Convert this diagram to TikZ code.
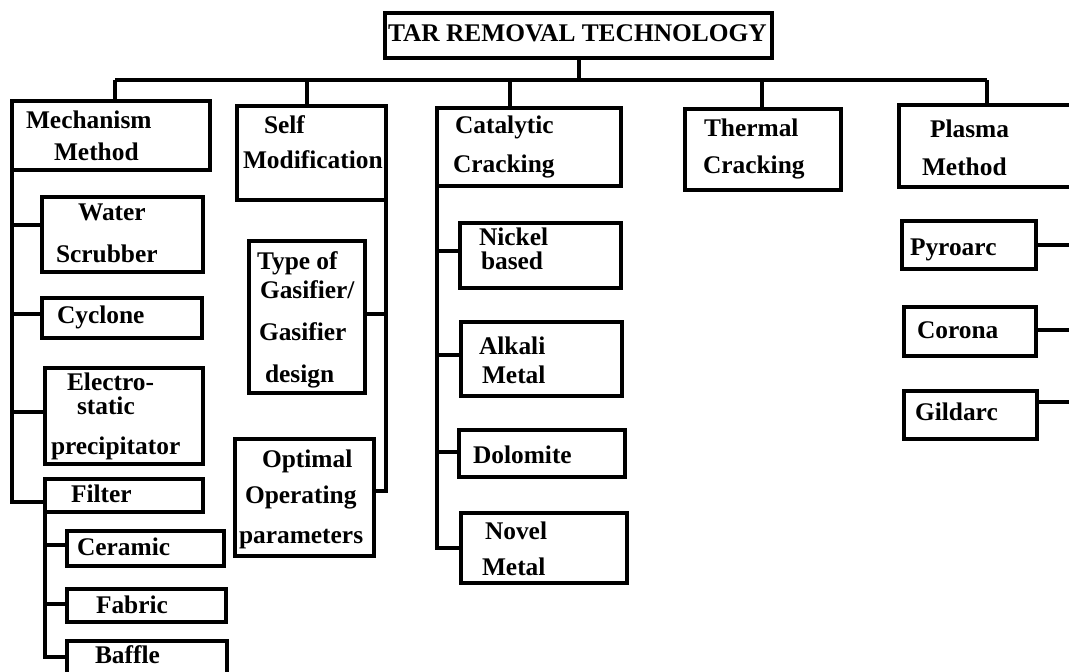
\documentclass[tikz,border=0pt]{standalone}
\usepackage{fontspec}
\setmainfont{Liberation Serif}
\tikzset{
  box/.style={draw, rectangle, line width=4pt, inner sep=0pt, outer sep=0pt},
  lbl/.style={anchor=base west, inner sep=0pt, outer sep=0pt, font=\fontsize{25.4}{30}\selectfont\bfseries},
  conn/.style={line width=4pt}
}
\begin{document}
\begin{tikzpicture}[x=1pt,y=-1pt]
\useasboundingbox (0,0) rectangle (1069,672);
\clip (0,0) rectangle (1069,672);
% boxes
\node[box, minimum width=387pt, minimum height=45pt] (top) at (578.5,35.5) {};
\node[box, minimum width=198pt, minimum height=69pt] (mech) at (111,135.5) {};
\node[box, minimum width=149pt, minimum height=94pt] (self) at (311.5,153) {};
\node[box, minimum width=184pt, minimum height=78pt] (cat) at (529,147) {};
\node[box, minimum width=156pt, minimum height=81pt] (therm) at (763,149.5) {};
\node[box, minimum width=201pt, minimum height=82pt] (plasma) at (999.5,146) {};
\node[box, minimum width=161pt, minimum height=75pt] (water) at (122.5,234.5) {};
\node[box, minimum width=160pt, minimum height=40pt] (cyclone) at (122,318) {};
\node[box, minimum width=158pt, minimum height=96pt] (electro) at (124,416) {};
\node[box, minimum width=158pt, minimum height=33pt] (filter) at (124,495.5) {};
\node[box, minimum width=157pt, minimum height=35pt] (ceramic) at (145.5,548.5) {};
\node[box, minimum width=159pt, minimum height=33pt] (fabric) at (146.5,605.5) {};
\node[box, minimum width=160pt, minimum height=59pt] (baffle) at (147,670.5) {};
\node[box, minimum width=116pt, minimum height=152pt] (type) at (307,317) {};
\node[box, minimum width=139pt, minimum height=117pt] (optimal) at (304.5,497.5) {};
\node[box, minimum width=161pt, minimum height=65pt] (nickel) at (540.5,255.5) {};
\node[box, minimum width=161pt, minimum height=74pt] (alkali) at (541.5,359) {};
\node[box, minimum width=166pt, minimum height=47pt] (dolomite) at (542,453.5) {};
\node[box, minimum width=166pt, minimum height=70pt] (novel) at (544,548) {};
\node[box, minimum width=134pt, minimum height=48pt] (pyroarc) at (969,245) {};
\node[box, minimum width=132pt, minimum height=49pt] (corona) at (970,331.5) {};
\node[box, minimum width=133pt, minimum height=48pt] (gildarc) at (970.5,415) {};
% texts
\node[lbl] (ttop) at (388,41) {TAR REMOVAL TECHNOLOGY};
\node[lbl] (tmech1) at (26,128) {Mechanism};
\node[lbl] (tmech2) at (54,160) {Method};
\node[lbl] (tself1) at (264,133) {Self};
\node[lbl] (tself2) at (243,168) {Modification};
\node[lbl] (tcat1) at (455,133) {Catalytic};
\node[lbl] (tcat2) at (453,172) {Cracking};
\node[lbl] (tth1) at (704,136) {Thermal};
\node[lbl] (tth2) at (703,173) {Cracking};
\node[lbl] (tpl1) at (930,137) {Plasma};
\node[lbl] (tpl2) at (922,175) {Method};
\node[lbl] (twat1) at (78,220) {Water};
\node[lbl] (twat2) at (56,262) {Scrubber};
\node[lbl] (tcyc) at (57,323) {Cyclone};
\node[lbl] (tel1) at (67,390) {Electro-};
\node[lbl] (tel2) at (77,414) {static};
\node[lbl] (tel3) at (51,454) {precipitator};
\node[lbl] (tfil) at (71,502) {Filter};
\node[lbl] (tcer) at (77,555) {Ceramic};
\node[lbl] (tfab) at (96,613) {Fabric};
\node[lbl] (tbaf) at (95,663) {Baffle};
\node[lbl] (tty1) at (257,269) {Type of};
\node[lbl] (tty2) at (260,298) {Gasifier/};
\node[lbl] (tty3) at (259,340) {Gasifier};
\node[lbl] (tty4) at (265,382) {design};
\node[lbl] (top1) at (262,467) {Optimal};
\node[lbl] (top2) at (245,503) {Operating};
\node[lbl] (top3) at (239,543) {parameters};
\node[lbl] (tni1) at (479,245) {Nickel};
\node[lbl] (tni2) at (481,269) {based};
\node[lbl] (tal1) at (479,354) {Alkali};
\node[lbl] (tal2) at (482,383) {Metal};
\node[lbl] (tdol) at (473,463) {Dolomite};
\node[lbl] (tno1) at (485,539) {Novel};
\node[lbl] (tno2) at (482,575) {Metal};
\node[lbl] (tpyr) at (910,255) {Pyroarc};
\node[lbl] (tcor) at (917,338) {Corona};
\node[lbl] (tgil) at (915,420) {Gildarc};
% main bus
\coordinate (busL) at (115,80);
\coordinate (busR) at (987,80);
\coordinate (sS) at ([xshift=-4.5pt]self.north);
\coordinate (sC) at ([xshift=-19pt]cat.north);
\coordinate (sT) at ([xshift=-1pt]therm.north);
\draw[conn] (busL) -- (busR);
\draw[conn] (top.south) -- (top.south |- busL);
\draw[conn] (busL) -- (busL |- mech.north);
\draw[conn] (sS) -- (sS |- busL);
\draw[conn] (sC) -- (sC |- busL);
\draw[conn] (sT) -- (sT |- busL);
\draw[conn] (busR) -- (busR |- plasma.north);
% mechanism branch
\coordinate (cW) at ([yshift=9.5pt]water.west);
\coordinate (cC) at ([yshift=4pt]cyclone.west);
\coordinate (cE) at ([yshift=4pt]electro.west);
\coordinate (cF) at ([yshift=-6.5pt]filter.west);
\draw[conn] (mech.south west) |- (cF);
\draw[conn] (cW -| mech.west) -- (cW);
\draw[conn] (cC -| mech.west) -- (cC);
\draw[conn] (cE -| mech.west) -- (cE);
% filter branch
\coordinate (cCe) at ([yshift=3.5pt]ceramic.west);
\coordinate (cFa) at ([yshift=1.5pt]fabric.west);
\coordinate (cBa) at ([yshift=13.5pt]baffle.west);
\draw[conn] (filter.south west) |- (cBa);
\draw[conn] (cCe -| filter.west) -- (cCe);
\draw[conn] (cFa -| filter.west) -- (cFa);
% self modification branch
\coordinate (cTy) at ([yshift=3pt]type.east);
\coordinate (cOp) at ([yshift=6.5pt]optimal.east);
\draw[conn] (self.south east) |- (cOp);
\draw[conn] (cTy -| self.east) -- (cTy);
% catalytic branch
\coordinate (cNi) at ([yshift=4.5pt]nickel.west);
\coordinate (cAl) at ([yshift=4pt]alkali.west);
\coordinate (cDo) at ([yshift=1.5pt]dolomite.west);
\draw[conn] (cat.south west) |- (novel.west);
\draw[conn] (cNi -| cat.west) -- (cNi);
\draw[conn] (cAl -| cat.west) -- (cAl);
\draw[conn] (cDo -| cat.west) -- (cDo);
% plasma branch
\coordinate (cPy) at (pyroarc.east);
\coordinate (cCo) at ([yshift=1.5pt]corona.east);
\coordinate (cGi) at ([yshift=13pt]gildarc.east);
\draw[conn] (plasma.south east) |- (cGi);
\draw[conn] (cPy -| plasma.east) -- (cPy);
\draw[conn] (cCo -| plasma.east) -- (cCo);
\end{tikzpicture}
\end{document}
